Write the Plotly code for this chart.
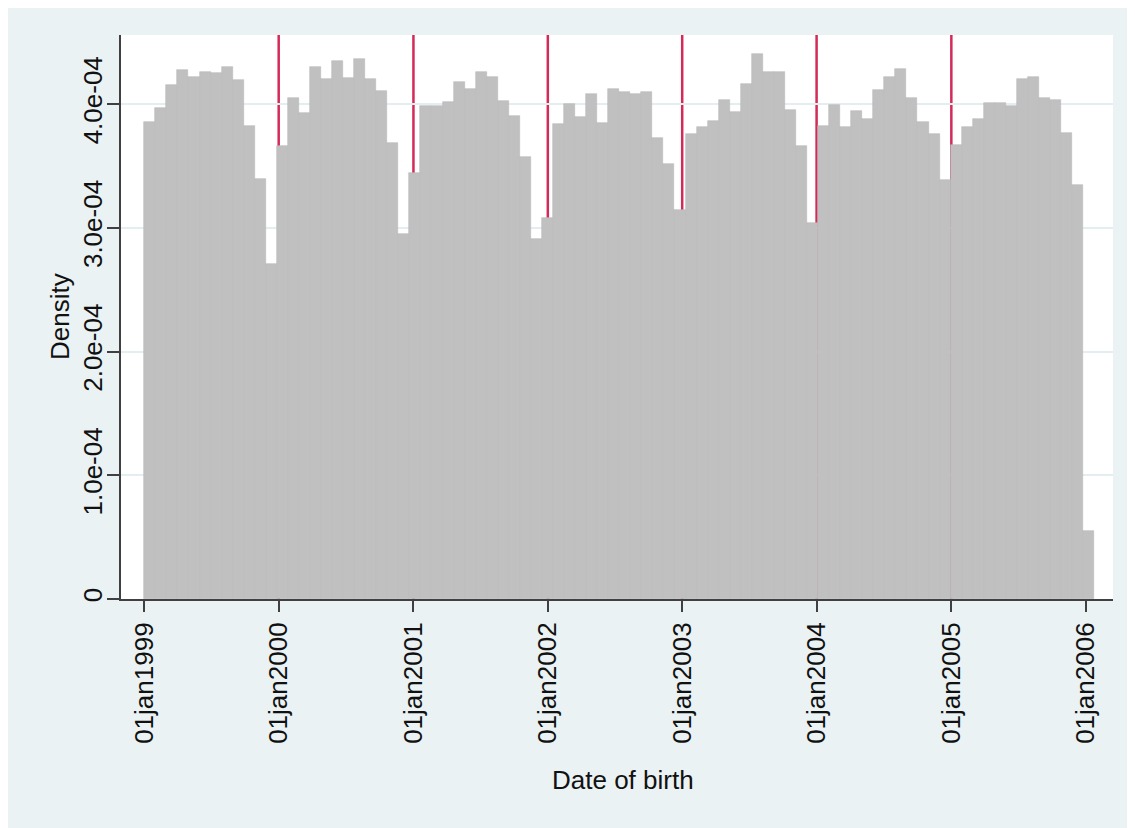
import datetime as dt
import plotly.graph_objects as go

# ---- data ----
bin_start_date = "1999-01-01"   # first bin left edge
bin_width_days = 30
density_e4 = [
    3.859, 3.972, 4.155, 4.276, 4.222, 4.263, 4.255, 4.298, 4.196, 3.824, 3.395, 2.711,
    3.665, 4.053, 3.931, 4.303, 4.204, 4.349, 4.209, 4.363, 4.204, 4.104, 3.684, 2.951,
    3.441, 3.983, 3.988, 4.015, 4.179, 4.120, 4.260, 4.222, 4.026, 3.907, 3.576, 2.908,
    3.083, 3.840, 3.999, 3.899, 4.080, 3.846, 4.120, 4.096, 4.080, 4.101, 3.729, 3.517,
    3.145, 3.757, 3.813, 3.864, 4.036, 3.934, 4.166, 4.408, 4.263, 4.263, 3.953, 3.662,
    3.037, 3.826, 3.996, 3.818, 3.945, 3.878, 4.115, 4.220, 4.287, 4.048, 3.856, 3.759,
    3.387, 3.670, 3.818, 3.883, 4.012, 4.012, 3.985, 4.204, 4.222, 4.053, 4.034, 3.765,
    3.347, 0.550,
]
x_tick_dates = ["1999-01-01", "2000-01-01", "2001-01-01", "2002-01-01",
                "2003-01-01", "2004-01-01", "2005-01-01", "2006-01-01"]
x_tick_labels = ["01jan1999", "01jan2000", "01jan2001", "01jan2002",
                 "01jan2003", "01jan2004", "01jan2005", "01jan2006"]
xline_dates = ["2000-01-01", "2001-01-01", "2002-01-01",
               "2003-01-01", "2004-01-01", "2005-01-01"]
y_tick_vals = [0, 1e-4, 2e-4, 3e-4, 4e-4]
y_tick_labels = ["0", "1.0e-04", "2.0e-04", "3.0e-04", "4.0e-04"]
x_title = "Date of birth"
y_title = "Density"

EPOCH = dt.date(1960, 1, 1)


def stata_day(s):
    return (dt.date.fromisoformat(s) - EPOCH).days


start = stata_day(bin_start_date)
centers = [start + bin_width_days * (i + 0.5) for i in range(len(density_e4))]
dens = [v * 1e-4 for v in density_e4]

BG = "#eaf2f3"
AX = "#404040"
FONT = "Liberation Sans, Arial, sans-serif"

fig = go.Figure()
fig.add_trace(go.Bar(
    x=centers, y=dens, width=[bin_width_days] * len(dens),
    marker=dict(color="#c0c0c0", line=dict(color="#b8b8b8", width=0.6)),
    hoverinfo="skip", showlegend=False,
))

shapes = []
for d in xline_dates:
    xv = stata_day(d)
    shapes.append(dict(type="line", xref="x", yref="y domain", x0=xv, x1=xv,
                       y0=0, y1=1, line=dict(color="#d42a57", width=2.5),
                       layer="below"))

W, H = 1127, 822
ML, MR, MT, MB = 113, 22, 27, 231
pw, ph = W - ML - MR, H - MT - MB

x_left = start - 63.3
x_right = start + 2631.1

annotations = [
    dict(text=y_title, xref="paper", yref="paper", x=(52 - ML) / pw, y=0.5,
         xanchor="center", yanchor="middle", textangle=-90, showarrow=False,
         font=dict(size=26, color="#111111")),
    dict(text=x_title, xref="paper", yref="paper", x=(615 - ML) / pw,
         y=((H - MB) - 772) / ph, xanchor="center", yanchor="middle",
         showarrow=False, font=dict(size=26, color="#111111")),
]

fig.update_layout(
    width=W, height=H,
    margin=dict(l=ML, r=MR, t=MT, b=MB, pad=0),
    paper_bgcolor=BG, plot_bgcolor="white",
    font=dict(family=FONT, size=26, color="#111111"),
    bargap=0, shapes=shapes, annotations=annotations,
    xaxis=dict(
        range=[x_left, x_right], showgrid=False, zeroline=False,
        tickmode="array", tickvals=[stata_day(d) for d in x_tick_dates],
        ticktext=x_tick_labels, tickangle=-90,
        ticks="outside", ticklen=11, tickwidth=2, tickcolor=AX,
        showline=True, linecolor=AX, linewidth=2,
    ),
    yaxis=dict(
        range=[0, 4.559e-4], showgrid=True, gridcolor="#e4edef", gridwidth=1.5,
        zeroline=False,
        tickmode="array", tickvals=y_tick_vals, ticktext=y_tick_labels,
        tickangle=-90, ticklabelstandoff=-5,
        ticks="outside", ticklen=12, tickwidth=2, tickcolor=AX,
        showline=True, linecolor=AX, linewidth=2,
    ),
)

fig.write_html("out.html")
